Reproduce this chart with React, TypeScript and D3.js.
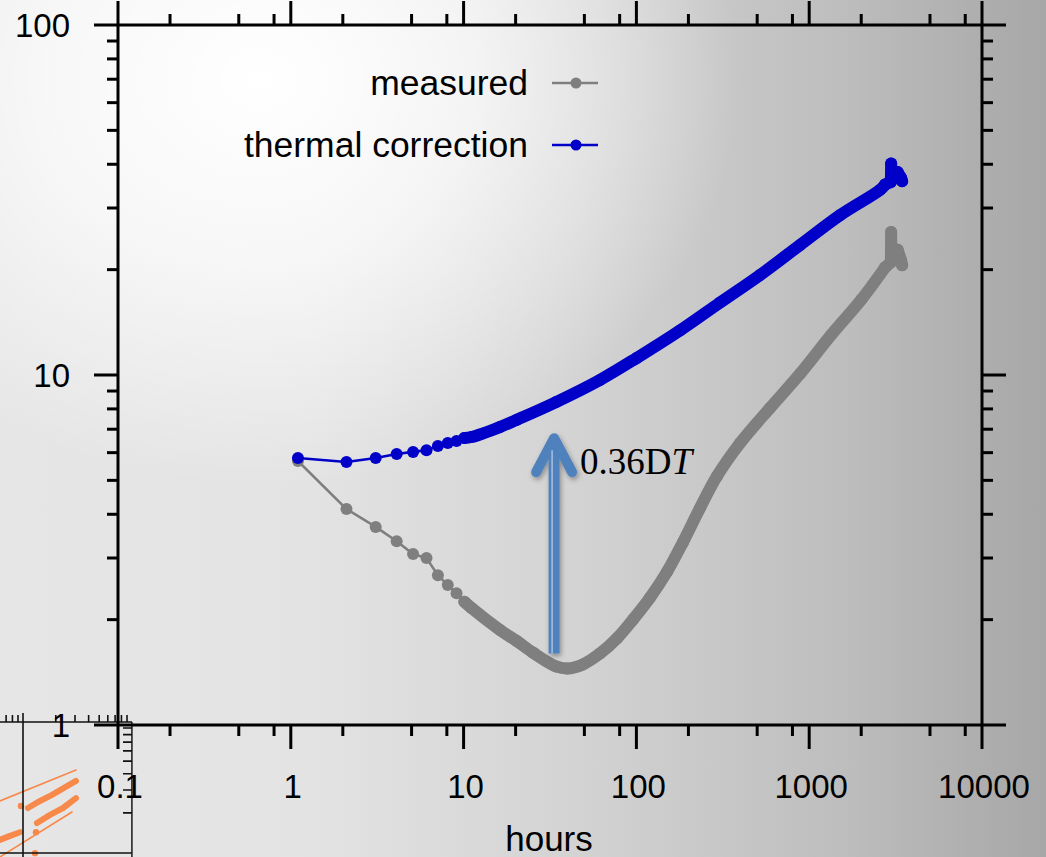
import React from "react";
import * as d3 from "d3";

const W = 1046;
const H = 857;

// Measured series (hours, value)
const measuredHours = [
  1.1, 2.1, 3.1, 4.1, 5.1, 6.1, 7.1, 8.1, 9.1, 10.1, 11.1, 16.2, 20.2, 25.2, 34.3, 39.8, 49,
  61.5, 77.3, 95.5, 119.8, 150.4, 186, 233.5, 292.6, 398, 593, 884, 1337, 2000, 2750, 2970, 2980,
  2990, 3250, 3400, 3450,
];
const measuredValues = [
  5.68, 4.14, 3.68, 3.35, 3.08, 3.0, 2.68, 2.51, 2.38, 2.25, 2.16, 1.87, 1.74, 1.61, 1.47, 1.45,
  1.49, 1.6, 1.77, 2.0, 2.31, 2.74, 3.33, 4.17, 5.14, 6.39, 8.05, 10.07, 13.0, 16.4, 20.3, 21.0,
  25.6, 21.5, 22.8, 21.3, 20.6,
];

// Thermally corrected series (hours, value)
const correctedHours = [
  1.1, 2.1, 3.1, 4.1, 5.1, 6.1, 7.1, 8.1, 9.1, 10.1, 11.1, 16.2, 20.2, 34.3, 61.5, 100.8, 178.6,
  304.6, 519, 884, 1507, 2570, 2750, 2970, 2980, 2990, 3250, 3400, 3450,
];
const correctedValues = [
  5.79, 5.64, 5.79, 5.95, 6.03, 6.1, 6.27, 6.39, 6.48, 6.61, 6.65, 7.1, 7.44, 8.37, 9.68, 11.2,
  13.4, 16.1, 19.3, 23.5, 28.6, 33.8, 35.0, 35.6, 40.2, 36.5, 38.0, 36.6, 35.8,
];

// Axes
const xDomain = [0.1, 10000];
const yDomain = [1, 100];
const xMajorTicks = [0.1, 1, 10, 100, 1000, 10000];
const xTickLabels = ["0.1", "1", "10", "100", "1000", "10000"];
const xMinorSteps = [2, 5, 8];
const yMajorTicks = [1, 10, 100];
const yTickLabels = ["1", "10", "100"];
const yMinorSteps = [2, 3, 4, 5, 6, 7, 8, 9];

// Shift annotation: hours, from, to
const shiftArrow = { hours: 33.4, from: 1.6, to: 6.6 };
const shiftLabel = "0.36D";
const shiftLabelItalic = "T";

const seriesNames = ["measured", "thermal correction"];
const seriesColors = ["#7f7f7f", "#0000c8"];

// Small inset plot (partly off the page)
const insetThinA = [[0.615, 0.247], [3.063, 0.428]];
const insetThinD = [[0.615, 0.0916], [2.815, 0.203]];
const insetBandB = [[1.111, 0.218], [1.432, 0.247], [1.846, 0.275], [2.377, 0.311], [3.063, 0.352]];
const insetBandC = [[1.344, 0.167], [1.769, 0.193], [2.328, 0.218], [3.063, 0.26]];
const insetBandE = [[0.615, 0.124], [0.76, 0.133], [0.939, 0.142]];
const insetDots = [[0.958, 0.226], [1.316, 0.142], [1.288, 0.098]];

const SANS = "'Liberation Sans', Arial, Helvetica, sans-serif";
const SERIF = "'Liberation Serif', 'Times New Roman', serif";

export default function App() {
  const x = d3.scaleLog().domain(xDomain).range([118, 982]);
  const y = d3.scaleLog().domain(yDomain).range([725, 25]);
  const line = d3
    .line<[number, number]>()
    .x((d) => x(d[0]))
    .y((d) => y(d[1]));
  const smooth = d3
    .line<[number, number]>()
    .x((d) => x(d[0]))
    .y((d) => y(d[1]))
    .curve(d3.curveCatmullRom.alpha(0.5));

  const measured: [number, number][] = measuredHours.map((h, i) => [h, measuredValues[i]]);
  const corrected: [number, number][] = correctedHours.map((h, i) => [h, correctedValues[i]]);

  const xLeft = x(xDomain[0]);
  const xRight = x(xDomain[1]);
  const yTop = y(yDomain[1]);
  const yBottom = y(yDomain[0]);
  const MAJ = 24;
  const MIN = 11;

  const xMinor: number[] = [];
  xMajorTicks.slice(0, -1).forEach((d) => xMinorSteps.forEach((m) => xMinor.push(d * m)));
  const yMinor: number[] = [];
  yMajorTicks.slice(0, -1).forEach((d) => yMinorSteps.forEach((m) => yMinor.push(d * m)));

  // inset scales
  const ix = d3.scaleLog().domain([1, 10]).range([23, 132]);
  const iy = d3.scaleLog().domain([0.1, 1]).range([852, 722]);
  const iline = d3
    .line<number[]>()
    .x((d) => ix(d[0]))
    .y((d) => iy(d[1]));
  const insetXTicks: number[] = [];
  [0.1, 1].forEach((d) => yMinorSteps.forEach((m) => insetXTicks.push(d * m)));
  const insetYTicks: number[] = [];
  [0.1].forEach((d) => yMinorSteps.forEach((m) => insetYTicks.push(d * m)));

  const R = 6;
  const seriesBand = (data: [number, number][], color: string, key: string) => {
    const dense = data.filter((d) => d[0] >= 10 && d[0] <= 2750);
    const tail = data.filter((d) => d[0] >= 2750);
    const sparse = data.filter((d) => d[0] <= 10.1);
    return (
      <g key={key}>
        <path d={line(sparse) || ""} fill="none" stroke={color} strokeWidth={2.6} />
        <path
          d={smooth(dense) || ""}
          fill="none"
          stroke={color}
          strokeWidth={2 * R}
          strokeLinejoin="round"
          strokeLinecap="round"
        />
        <path
          d={line(tail) || ""}
          fill="none"
          stroke={color}
          strokeWidth={2 * R}
          strokeLinejoin="round"
          strokeLinecap="round"
        />
        {data.map((d, i) => (
          <circle key={i} cx={x(d[0])} cy={y(d[1])} r={R} fill={color} />
        ))}
      </g>
    );
  };

  const ax = x(shiftArrow.hours);
  const ay0 = y(shiftArrow.from);
  const ay1 = y(shiftArrow.to);

  return (
    <svg
      width={W}
      height={H}
      viewBox={`0 0 ${W} ${H}`}
      style={{ position: "absolute", left: 0, top: 0, display: "block" }}
    >
      <defs>
        <linearGradient id="bgLin" x1="0" y1="0" x2="1" y2="0">
          <stop offset="0" stopColor="#e6e6e6" />
          <stop offset="0.3" stopColor="#e3e3e3" />
          <stop offset="0.55" stopColor="#d3d3d3" />
          <stop offset="0.8" stopColor="#bebebe" />
          <stop offset="1" stopColor="#a7a7a7" />
        </linearGradient>
        <radialGradient
          id="bgGlow"
          gradientUnits="userSpaceOnUse"
          cx={260}
          cy={80}
          r={480}
          gradientTransform="translate(260 80) scale(1 0.85) translate(-260 -80)"
        >
          <stop offset="0" stopColor="#ffffff" stopOpacity={1} />
          <stop offset="0.45" stopColor="#ffffff" stopOpacity={0.7} />
          <stop offset="1" stopColor="#ffffff" stopOpacity={0} />
        </radialGradient>
        <filter id="arrowShadow" x="-50%" y="-20%" width="200%" height="140%">
          <feDropShadow dx={1.5} dy={2.5} stdDeviation={2.5} floodColor="#000" floodOpacity={0.35} />
        </filter>
        <clipPath id="insetClip">
          <rect x={-5} y={700} width={137.8} height={170} />
        </clipPath>
      </defs>

      <rect x={0} y={0} width={W} height={H} fill="url(#bgLin)" />
      <rect x={0} y={0} width={W} height={H} fill="url(#bgGlow)" />

      {/* inset */}
      <g clipPath="url(#insetClip)">
        <g stroke="#f7894a" fill="none" strokeLinecap="round" strokeLinejoin="round">
          <path d={iline(insetThinA) || ""} strokeWidth={1.6} />
          <path d={iline(insetThinD) || ""} strokeWidth={1.6} />
          <path d={iline(insetBandB) || ""} strokeWidth={6} />
          <path d={iline(insetBandC) || ""} strokeWidth={6} />
          <path d={iline(insetBandE) || ""} strokeWidth={6} />
        </g>
        {insetDots.map((d, i) => (
          <circle key={i} cx={ix(d[0])} cy={iy(d[1])} r={3.2} fill="#f7894a" />
        ))}
        <g stroke="#111" strokeWidth={1.6}>
          <line x1={-5} x2={ix(10)} y1={iy(1)} y2={iy(1)} />
          <line x1={-5} x2={ix(10)} y1={iy(0.1) + 1} y2={iy(0.1) + 1} />
          <line x1={ix(1)} x2={ix(1)} y1={iy(1) - 9} y2={H} />
          <line x1={ix(10)} x2={ix(10)} y1={iy(1)} y2={H} />
          {insetXTicks.map((t, i) => (
            <line key={"ixt" + i} x1={ix(t)} x2={ix(t)} y1={iy(1)} y2={iy(1) - 7} />
          ))}
          {insetYTicks.map((t, i) => (
            <line key={"iyt" + i} x1={ix(10)} x2={ix(10) - 9} y1={iy(t)} y2={iy(t)} />
          ))}
        </g>
      </g>

      {/* frame and ticks */}
      <g stroke="#000" strokeWidth={3}>
        <line x1={xLeft - MAJ} x2={xRight + MAJ} y1={yTop} y2={yTop} />
        <line x1={xLeft - MAJ} x2={xRight + MAJ} y1={yBottom} y2={yBottom} />
        <line x1={xLeft} x2={xLeft} y1={yTop - MAJ} y2={yBottom + MAJ} />
        <line x1={xRight} x2={xRight} y1={yTop - MAJ} y2={yBottom + MAJ} />
        {xMajorTicks.slice(1, -1).map((t) => (
          <g key={"xM" + t}>
            <line x1={x(t)} x2={x(t)} y1={yTop} y2={yTop - MAJ} />
            <line x1={x(t)} x2={x(t)} y1={yBottom} y2={yBottom + MAJ} />
          </g>
        ))}
        {xMinor.map((t) => (
          <g key={"xm" + t}>
            <line x1={x(t)} x2={x(t)} y1={yTop} y2={yTop - MIN} />
            <line x1={x(t)} x2={x(t)} y1={yBottom} y2={yBottom + MIN} />
          </g>
        ))}
        {yMajorTicks.slice(1, -1).map((t) => (
          <g key={"yM" + t}>
            <line x1={xLeft} x2={xLeft - MAJ} y1={y(t)} y2={y(t)} />
            <line x1={xRight} x2={xRight + MAJ} y1={y(t)} y2={y(t)} />
          </g>
        ))}
        {yMinor.map((t) => (
          <g key={"ym" + t}>
            <line x1={xLeft} x2={xLeft - MIN} y1={y(t)} y2={y(t)} />
            <line x1={xRight} x2={xRight + MIN} y1={y(t)} y2={y(t)} />
          </g>
        ))}
      </g>

      {/* tick labels */}
      <g fontFamily={SANS} fontSize={33} fill="#000">
        {xMajorTicks.map((t, i) => (
          <text key={"xl" + t} x={x(t) + 2} y={yBottom + 73} textAnchor="middle">
            {xTickLabels[i]}
          </text>
        ))}
        {yMajorTicks.map((t, i) => (
          <text key={"yl" + t} x={70} y={y(t) + 12} textAnchor="end">
            {yTickLabels[i]}
          </text>
        ))}
      </g>
      <text x={549} y={851} textAnchor="middle" fontFamily={SANS} fontSize={35} fill="#000">
        hours
      </text>

      {/* series */}
      {seriesBand(measured, seriesColors[0], "measured")}
      {seriesBand(corrected, seriesColors[1], "corrected")}

      {/* shift arrow */}
      <g filter="url(#arrowShadow)">
        <line x1={ax} x2={ax} y1={ay0} y2={ay1 + 4} stroke="#4f81bd" strokeWidth={11} />
        <polyline
          points={`${ax - 18},${ay1 + 34} ${ax},${ay1} ${ax + 18},${ay1 + 34}`}
          fill="none"
          stroke="#4f81bd"
          strokeWidth={10}
          strokeLinecap="round"
          strokeLinejoin="round"
        />
      </g>
      <line x1={ax - 2} x2={ax - 2} y1={ay0} y2={ay1 + 12} stroke="#a9c1e2" strokeWidth={1.5} />
      <text x={ax + 26} y={ay1 + 36} fontFamily={SERIF} fontSize={37} fill="#000">
        {shiftLabel}
        <tspan fontStyle="italic">{shiftLabelItalic}</tspan>
      </text>

      {/* legend */}
      <g fontFamily={SANS} fontSize={35.5} fill="#000">
        {seriesNames.map((name, i) => {
          const ly = 83 + i * 62;
          return (
            <g key={name}>
              <text x={528} y={ly + 12} textAnchor="end">
                {name}
              </text>
              <line x1={552} x2={598} y1={ly} y2={ly} stroke={seriesColors[i]} strokeWidth={2.6} />
              <circle cx={576} cy={ly} r={5.5} fill={seriesColors[i]} />
            </g>
          );
        })}
      </g>
    </svg>
  );
}
